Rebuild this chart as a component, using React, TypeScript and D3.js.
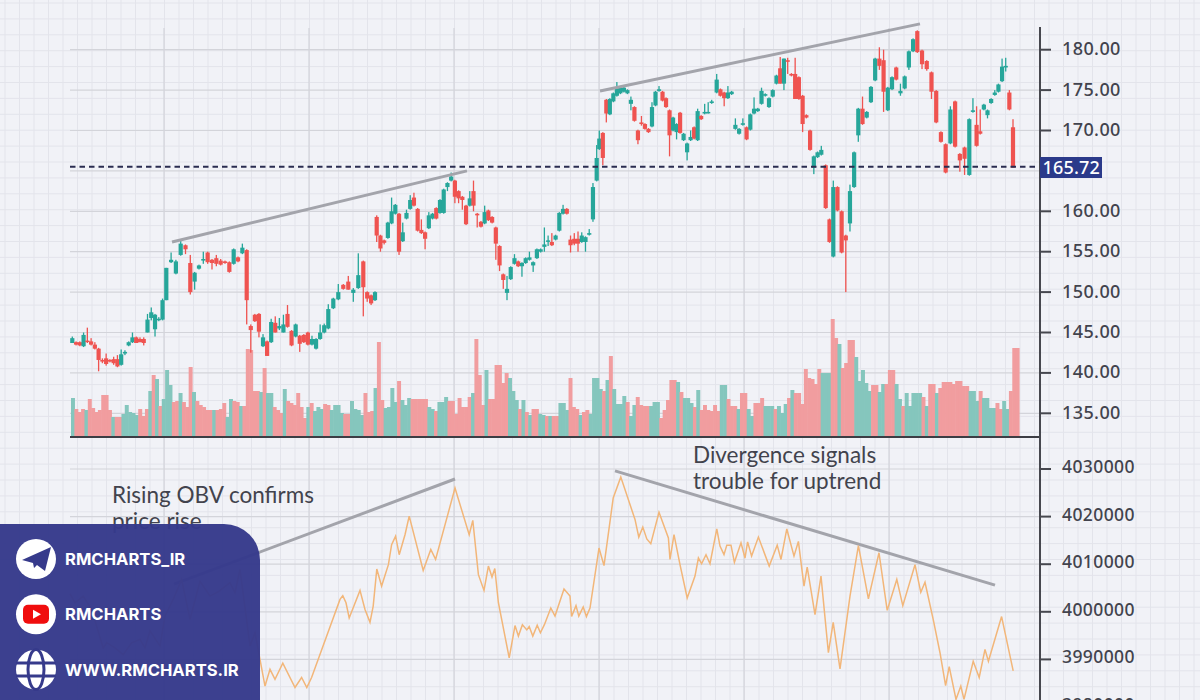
import * as d3 from 'd3';

const W = 1200;
const H = 700;

// [open, high, low, close], one row per session
const priceBars: number[][] = [
  [143.7, 144.5, 143.7, 144.3], [143.8, 143.9, 143.4, 143.5], [143.8, 143.9, 143.3, 143.4], [143.3, 145, 143.2, 144.7],
  [144, 145.6, 143.7, 143.9], [143.9, 144.3, 143.4, 143.5], [143.5, 143.8, 142.9, 143], [143, 143.1, 140.2, 141.6],
  [141.6, 141.8, 141.2, 141.4], [141.8, 142.4, 140.9, 141.1], [141.6, 141.7, 141.3, 141.4], [141.7, 142, 141, 141.2],
  [141.7, 142.2, 140.7, 140.8], [141, 142.9, 140.9, 142.3], [142.4, 142.8, 142.2, 142.6], [143.4, 143.9, 143.3, 143.8],
  [143.8, 145, 143.7, 144.4], [144.4, 144.5, 143.7, 143.7], [144.2, 144.4, 143.8, 143.8], [144.2, 144.4, 143.4, 143.7],
  [145, 147.3, 145, 146.6], [146.8, 148.1, 146.5, 147.5], [145.4, 147.3, 144.5, 147.2], [146.6, 146.9, 146.4, 146.7],
  [146.6, 149.2, 146.5, 149], [149, 153, 149, 153], [153.7, 154.9, 153.6, 154], [152.3, 154, 152.2, 153.8],
  [154.6, 156.4, 154.5, 156], [155.8, 155.9, 154.7, 155.3], [153.6, 154.6, 149.7, 150], [151.3, 152.5, 150.3, 152.4],
  [152.9, 153.4, 152.8, 153.3], [153.9, 155, 153.5, 154.1], [154.9, 155, 153.5, 153.7], [154, 154.1, 152.8, 153.6],
  [154.2, 154.6, 153.2, 153.5], [153.9, 154.1, 153.3, 153.4], [153.8, 153.9, 153.5, 153.6], [153.7, 153.8, 152.4, 152.5],
  [153.5, 155.4, 153.4, 155.3], [154.3, 154.4, 153.7, 153.8], [154.8, 156, 154.7, 155.5], [155.2, 155.3, 146, 149],
  [145.8, 146, 142.5, 145.3], [147.2, 147.3, 146.3, 146.4], [147.3, 147.4, 144.4, 145.1], [143.3, 144.8, 143.2, 144.4],
  [143.9, 144, 142.1, 142.1], [143.8, 146.7, 143.7, 146.3], [146.2, 147, 145, 145], [145.5, 146.8, 145.3, 145.8],
  [145, 147.2, 145, 146], [147.3, 148.4, 145.6, 145.7], [145.2, 145.3, 143.3, 143.4], [144.5, 146.1, 144.4, 146],
  [144.6, 144.7, 142.6, 143.6], [144.7, 144.8, 143.7, 143.8], [145, 145.1, 143.4, 143.5], [143.5, 144.6, 143.4, 144.2],
  [143, 144.3, 142.9, 144.2], [144.2, 146, 144.1, 145], [145, 146.1, 144.9, 145.9], [145.5, 148.5, 145.4, 147.9],
  [148, 149.3, 147.9, 149.2], [149.1, 151, 149, 150], [150.9, 151, 150.3, 150.4], [151.3, 152, 150.3, 150.3],
  [149.9, 150.5, 148.8, 150.3], [150.5, 154.8, 150.4, 152.1], [153.8, 153.9, 147, 150.6], [150, 150.1, 148.8, 149.2],
  [149.6, 149.7, 148.4, 148.6], [149, 150.1, 148.9, 150],
  [159.3, 159.5, 156.2, 157], [157, 157.1, 155, 155.4], [156.4, 156.5, 155.9, 156.1], [156.7, 158.7, 156.6, 158.6],
  [158.5, 161.7, 158.4, 160], [159.7, 160.9, 159.6, 160.8], [159.7, 159.8, 154.6, 155], [156.3, 158.6, 156.2, 157.4],
  [159.1, 160.2, 159, 159.8], [160.3, 162, 160.2, 161.4], [161.7, 162.3, 160.6, 160.7], [160.3, 160.4, 157.5, 157.6],
  [157.7, 159, 157.2, 157.3], [157.4, 157.5, 155.3, 156.6], [157.9, 159.9, 157.8, 159.5], [159.1, 159.8, 159, 159.7],
  [160.4, 160.5, 159, 159.1], [159.8, 161.5, 159.7, 161.4], [159.8, 162.8, 159.7, 162.7], [163, 163.6, 162.5, 163.5],
  [163.8, 164.8, 163.7, 164.3], [163.8, 163.9, 161, 161.8], [162.5, 162.6, 161, 161.6], [161.8, 161.9, 160.2, 161.4],
  [160.7, 160.8, 158.3, 158.4], [160.7, 162.5, 160.6, 161.6], [162.5, 163.8, 160, 160.7], [159.7, 159.8, 158, 159.5],
  [158.7, 158.8, 158, 158.1], [158.5, 160.7, 158.4, 159.9], [160.1, 160.2, 158.8, 158.9], [159.3, 159.4, 158.5, 158.6],
  [158, 158.1, 154, 156], [155.7, 155.8, 152.6, 153.3], [152.2, 152.3, 150.4, 151.5], [149.9, 152, 149, 150.4],
  [151.6, 153.2, 151.5, 153.1], [153.5, 154.7, 153.4, 154.2], [153.8, 153.9, 153.1, 153.2], [153.2, 153.7, 151.9, 153.6],
  [153.6, 154.3, 153.5, 154.2], [154, 155, 153.9, 154.3], [153.3, 153.8, 152.5, 153.7], [154.2, 155.4, 154.1, 155.3],
  [155, 155.4, 154.9, 155.3], [155.6, 158, 155, 155.9], [156.3, 157, 155.7, 156.4], [156.2, 157.3, 155.7, 155.8],
  [156.5, 157.1, 156.4, 157], [157.6, 159.9, 157.5, 159.8], [159.7, 160.8, 159.6, 160.3], [160.3, 160.4, 159.6, 159.7],
  [156.5, 157, 154.9, 155.8], [156.6, 157.3, 155.8, 156], [156.6, 157.5, 155, 156], [156.2, 157.4, 156.1, 157],
  [156.2, 156.9, 155, 156.8], [157.1, 157.8, 157, 157.3], [159, 163.5, 158.7, 163], [163.8, 168.2, 163.7, 166.6],
  [167.7, 170, 167.6, 169], [169.7, 169.8, 165.7, 166.6], [173.8, 173.9, 171, 172.1], [172, 174, 171.9, 173.9],
  [173.6, 174.7, 173.5, 174.6], [174.3, 176, 174.2, 175.2], [174.6, 175.4, 174.5, 175.3], [174.8, 175.4, 174.7, 175.3],
  [174.6, 175.1, 174.5, 175], [173.3, 174.2, 172.5, 173.8], [172.9, 173, 171.1, 171.2], [170, 170.1, 168.3, 168.8],
  [171, 171.8, 170.6, 170.8], [170.8, 170.9, 170.1, 170.2], [170.2, 170.3, 169.7, 169.8], [170.5, 173.5, 170.4, 172.9],
  [173.1, 174.9, 173, 174.8], [174.9, 175.5, 174.8, 175.1], [174.8, 174.9, 173.6, 173.7], [174, 174.1, 172.8, 172.9],
  [172.5, 172.6, 166.8, 169.4], [170, 171.7, 169.9, 171.6], [169.8, 170.9, 168.9, 170.8], [172.2, 172.3, 169.6, 169.7],
  [168.8, 169.7, 168.7, 169.6], [167.3, 168.5, 166.3, 168.4], [168.8, 170, 168.7, 169.2], [170.4, 170.5, 168.9, 169],
  [168.8, 172.7, 168.7, 172.4], [171.8, 171.9, 171.3, 171.4], [172.1, 173.3, 172, 172.3], [172.2, 173.5, 172.1, 172.3],
  [173.4, 173.8, 173.3, 173.6],
  [174.7, 177, 174.6, 176.3], [175.1, 175.2, 174.2, 174.3], [174.7, 174.8, 173, 174], [174, 175.5, 173.9, 174.7],
  [174.5, 174.9, 174.4, 174.8], [170.2, 171.5, 170.1, 170.7], [169.6, 170.3, 169.5, 170.2], [170.7, 171.5, 170.6, 170.9],
  [170.4, 170.5, 168.8, 168.9], [170.1, 172.1, 170, 172], [172.1, 174.1, 172, 172.7], [172.4, 172.8, 172.3, 172.7],
  [173.3, 175.3, 173.2, 174.9], [174.3, 174.6, 174.2, 174.5], [172.9, 174.1, 172.8, 174], [174.2, 175.1, 174.1, 175],
  [175.8, 176.9, 175.7, 176.8], [177.7, 179.1, 175.8, 175.8], [175.8, 178.9, 175, 178.9], [178.7, 179, 177, 178.5],
  [177, 177.1, 176.7, 176.8], [177, 179, 173.9, 173.9], [176.6, 176.7, 173.8, 173.9], [174.3, 174.4, 169.8, 170.8],
  [171.9, 172, 171.5, 171.6], [170, 170.1, 167.5, 167.6], [165.4, 166.9, 164.6, 166.8], [166.7, 167.4, 166.6, 167.3],
  [167, 168.1, 166.9, 167.6], [165.7, 165.8, 160.3, 160.4], [159, 159.1, 156.1, 156.2], [154.4, 163.8, 154.3, 163],
  [163, 163.1, 160, 160.1], [160, 160.1, 154.8, 154.9], [157, 157.1, 150, 156.4], [158.5, 163.3, 157.5, 162.5],
  [163, 167.4, 162.9, 167.3], [169.4, 172.8, 168.6, 172.7], [172.7, 174.2, 170.7, 170.8], [171.6, 172.4, 171.5, 172.3],
  [173.5, 175.5, 173.4, 175.4], [176.2, 179, 176.1, 178.9], [178.9, 180.3, 177.5, 178], [178.7, 180, 172.3, 174.8],
  [172.5, 175.4, 172.4, 175.3], [175.1, 176.7, 175, 176.6], [177.8, 177.9, 176.2, 176.3], [174.6, 175.8, 174.3, 174.9],
  [175.2, 176.8, 175.1, 176.7], [177.8, 179.9, 177.5, 179.8], [179.8, 181.4, 179.7, 181.3], [182.3, 182.4, 179.6, 179.7],
  [179.9, 180, 177.6, 178.2], [178.6, 178.7, 177.4, 177.6], [177.2, 177.3, 173.9, 174.8], [174.9, 175, 170.9, 171],
  [169.8, 169.9, 168.5, 168.6], [168.3, 168.4, 164.7, 164.8], [168.4, 173, 168.3, 172.6], [173.6, 173.7, 167.9, 168],
  [167.1, 167.2, 164.9, 166.3], [167.9, 168, 164.5, 166.5], [164.5, 171.5, 164.4, 171.4], [172.3, 174, 172.2, 172.5],
  [170.7, 173, 168, 168.1], [169.9, 172.6, 169.5, 169.6], [172.6, 173.3, 172.5, 173.2], [171.9, 172.6, 171.5, 172.5],
  [173.4, 174, 173.3, 173.9], [174.4, 175, 174.3, 174.7], [174.8, 175.8, 174.7, 175.7], [176.1, 178.9, 176, 177.9],
  [177.8, 179, 177.3, 178], [174.7, 175, 172.5, 172.6], [170.4, 171.4, 165.4, 165.4],
];

// bar heights, positive sessions drawn teal and negative drawn red
const volumeBars: number[] = [
  39, -28, -25, -28, 27, -38, -29, -25, -27, -42, -42, -27, 20, -20, -20, 23, 32, 25, 24, 22, -28, -21, -28, 46, -62, 58, -31, 38, 67, 52,
  -35, -36, 44, -35, -30, -70, 45, -36, -32, -30, -27, -27, 27, -27, -28, -34, 20, 38, -36, -35, 31, -31, -88, -87, -46, -46, 45, -69, 44, 44,
  -30, -27, -24, 48, -36, -34, -32, -44, -30, -19, 30, -34, 26, 30, 28, -33, -32, 27, 32, 32, 24, -23, -23, 36, 28, 27, 22, -44, -25, -26,
  49, -95, -37, 29, 30, 49, 35, -56,
  37, 32, 39, -38, -38, -38, -38, -38, 30, 28, -26, 35, 35, 40, -36, -36, -23, -39, -30, -30, -40, 44, -98, -62, -32, 67, -38, -38, -72, -72,
  -54, -64, 59, 46, 37, -28, 37, -25, 22, -28, -28, 23, 22, -21, 21, -21, -21, 34, 34, 27, -59, -30, -28, 22, -25, -27, 23, 59, 59, 48,
  -46, 57, -81, 48, 33, 33, 41, -35, 21, 32, -40, -32, -31, -31, 31, 35, 35, -19, -27, -37, -57, -57, 55, -45, 39, 39, 34, -30, 47, -27,
  -32, -27,
  -26, -32, -26, 52, 52, -38, -31, -31, 28, -44, -44, 28, 21, -34, -34, -39, 31, 31, 31, -28, 31, 24, 33, -39, 47, -44, -44, -33, -68, -59,
  -58, -53, -68, 64, 64, 64, -118, -99, 93, -69, -74, -97, -97, 80, 56, 67, 54, 46, -52, -52, 45, 53, -53, -67, -67, 53, 38, -31, 44, 31,
  44, 44, 44, -40, 31, -53, -53, 44, -49, -55, -55, -55, -53, -56, -56, -51, -51, 46, 46, 36, -46, 39, 39, 29, 29, -34, -28, 36, 28, -46,
  -89, -89,
];

// [session, OBV in thousands], turning points of the line
const obvPoints: number[][] = [
  [-0.5, 4003.8], [0.75, 4001.9], [2.8, 4003.3], [4.9, 4000.5], [7.8, 3992.4], [8.7, 3993.5], [10.75, 3992.4], [12.8, 3991],
  [14.9, 3993.5], [17, 3994.2], [18.25, 3992.4], [19.5, 3996], [22, 3992.8], [23.25, 3999.1], [25.3, 4002.6], [27.4, 4006.8],
  [29.5, 3998.4], [32, 4006.4], [34.5, 4003.3], [36.7, 4004.3], [39.5, 4006.1], [40.75, 4004], [42, 4008.9], [44.5, 3992.8],
  [45.75, 3995.6], [48.25, 3984.4], [49.5, 3987.9], [50.75, 3985.8], [52.7, 3989.2], [55.75, 3984.1], [57.4, 3986.2], [58.7, 3984.1],
  [59.9, 3986.2], [67, 4002.6], [67.7, 4003.4], [68.5, 4001.9], [69.3, 3998.7], [72, 4004.5], [73.25, 4000.5], [74.5, 3997.8],
  [75.3, 4001.2], [76.2, 4009], [77.4, 4005.4], [79.1, 4009.9], [79.9, 4014.1], [80.9, 4015.9], [81.8, 4012], [83.25, 4016.2],
  [84.3, 4020.1], [87.8, 4008.7], [89.7, 4013.1], [90.9, 4011], [95.75, 4026], [99.3, 4016.2], [100.2, 4019.2], [101.6, 4007.8],
  [103, 4004.5], [104.1, 4009.6], [105, 4007.3], [105.7, 4009.1], [106.6, 4001.9], [109.3, 3990.3], [110.75, 3997.1], [111.6, 3994.9],
  [112.6, 3997.3], [113.7, 3996.2], [114.3, 3996.9], [115.2, 3994.9], [116.3, 3997.2], [117.1, 3995.6], [118.1, 3997.3], [119.7, 4000.8],
  [120.75, 3999.1], [123, 4004.8], [124.5, 4003.3], [124.9, 3999], [126, 4001.3], [126.7, 3999.1], [127.8, 4001], [128.6, 3999],
  [129.5, 4000.8], [131.75, 4013.4], [133, 4009.7], [135.3, 4023.9], [137.2, 4028.3], [140.75, 4019.4], [141.7, 4015.7], [142.7, 4017.8],
  [143.7, 4015.3], [144.7, 4014.3], [146.75, 4020.9], [149.1, 4015.5], [149.5, 4011], [150.5, 4016.2], [152, 4009.9], [153.8, 4002.9],
  [155.75, 4007.5], [156.6, 4011.3], [157.4, 4010.1], [158.5, 4012], [159.5, 4010.1], [161.2, 4017.4], [162, 4013.8], [163, 4012],
  [163.7, 4014], [164.75, 4014], [165.6, 4010.4], [167.25, 4014.5], [168.25, 4011.3], [168.9, 4014.7], [169.9, 4011.7], [171.6, 4015.7],
  [174.3, 4009.6], [176.3, 4014], [177.25, 4011], [178.7, 4017.4], [180.5, 4011.7], [181.6, 4014.8], [183, 4005.4], [183.8, 4009.4],
  [185.75, 3999.4], [187.25, 4007.5], [189.1, 3991.4], [190.3, 3997.8], [192, 3988], [194.5, 4003.3], [196.6, 4013.9], [199.1, 4002.7],
  [201.75, 4012.4], [203.8, 4000.3], [206.2, 4006.8], [207.7, 4001.3], [210.75, 4009.9], [212.2, 4004.1], [213.25, 4006.2], [215.3, 3998.4],
  [217, 3991.4], [218.4, 3984.5], [219.3, 3988.5], [221, 3981.6], [222.2, 3984.4], [223, 3981.6], [225.3, 3989.6], [226.8, 3986.2],
  [228.25, 3992.1], [229.1, 3989.6], [232.4, 3999], [235.3, 3987.6],
];

const priceTicks = [180, 175, 170, 165, 160, 155, 150, 145, 140, 135];
const priceLabels = priceTicks.filter((t) => t !== 165);
const obvTicks = [4030, 4020, 4010, 4000, 3990, 3980];

const lastPrice = 165.72;
const lastPriceLevel = 165.5;

// [session, value] end points
const priceTrends = [
  [[25, 156.2], [98.75, 165]],
  [[132, 174.9], [212, 183.2]],
];
const obvTrends = [
  [[25.5, 4005.8], [95.75, 4027.9]],
  [[135.75, 4029.6], [230.75, 4005.6]],
];

const contacts = ['RMCHARTS_IR', 'RMCHARTS', 'WWW.RMCHARTS.IR'];

// the sessions are not evenly spread along the reference's axis, so the bar scale is piecewise
const barStops = [0, 25, 30, 43, 63, 70, 73, 74, 109, 133, 134, 166, 167, 195, 196, 198, 204, 218, 229, 241];
const barStopsX = [72.3, 166.3, 190.3, 246.7, 328.3, 363.3, 375, 376.7, 507, 596.7, 599.3, 711.7, 716.7, 821.3, 825.7, 833.3, 858.3, 917.3, 969.3, 1013];

const x = d3.scaleLinear().domain([0, 235]).range([72, 1012]);
const xBar = d3.scaleLinear().domain(barStops).range(barStopsX);
const xVol = d3.scaleBand<number>().domain(d3.range(volumeBars.length)).range([71, 1019]);
const yPrice = d3.scaleLinear().domain([135, 180]).range([413.3, 49.7]);
const yVol = d3.scaleLinear().domain([0, 118]).range([437, 319]);
const yObv = d3.scaleLinear().domain([4030, 3980]).range([469, 707]);

const obvLine = d3.line<number[]>().x((d) => x(d[0])).y((d) => yObv(d[1]));

const UP = '#26a69a';
const DOWN = '#ef5350';
const GRID = '#d3d4da';
const INK = '#42434d';
const PANEL = '#363a8b';
const labelFont = '"Noto Sans", sans-serif';
const noteFont = 'Lato, sans-serif';

export default function App() {
  const minorX = d3.range(5, W, 14.5);
  const minorY = d3.range(3, H, 15.9);
  const majorX = d3.range(164, 1000, 145);

  return (
    <div style={{ position: 'absolute', left: 0, top: 0 }}>
      <svg width={W} height={H} style={{ display: 'block' }}>
        <rect width={W} height={H} fill="#f1f2f7" />
        {minorX.map((v) => <line key={v} x1={v} x2={v} y1={0} y2={H} stroke="#e3e4eb" />)}
        {minorY.map((v) => <line key={v} x1={0} x2={W} y1={v} y2={v} stroke="#e3e4eb" />)}
        {majorX.map((v) => <line key={v} x1={v} x2={v} y1={28} y2={H} stroke={GRID} strokeWidth={1.2} />)}
        {priceTicks.map((t) => <line key={t} x1={70} x2={1040} y1={yPrice(t)} y2={yPrice(t)} stroke={GRID} strokeWidth={1.2} />)}
        {obvTicks.map((t) => <line key={t} x1={70} x2={1040} y1={yObv(t)} y2={yObv(t)} stroke={GRID} strokeWidth={1.2} />)}

        {volumeBars.map((v, i) => (
          <rect key={i} x={xVol(i)} width={xVol.bandwidth() + 0.6} y={yVol(Math.abs(v))} height={yVol(0) - yVol(Math.abs(v))}
            fill={v >= 0 ? '#85c6bd' : '#f19d9f'} />
        ))}

        {priceBars.map(([o, h, l, c], i) => {
          const colour = c >= o ? UP : DOWN;
          const top = yPrice(Math.max(o, c));
          const bottom = yPrice(Math.min(o, c));
          return (
            <g key={i} fill={colour}>
              <rect x={xBar(i) - 0.65} width={1.3} y={yPrice(h)} height={yPrice(l) - yPrice(h)} />
              <rect x={xBar(i) - 2.1} width={4.2} y={top} height={Math.max(bottom - top, 1.5)} />
            </g>
          );
        })}

        <line x1={70} x2={1040} y1={yPrice(lastPriceLevel)} y2={yPrice(lastPriceLevel)} stroke="#2a2c50" strokeWidth={2} strokeDasharray="5.5 4" />
        <line x1={70} x2={1040} y1={437} y2={437} stroke="#3c3d44" strokeWidth={2} />
        <line x1={1040} x2={1040} y1={27} y2={H} stroke="#46474e" strokeWidth={2} />

        {priceTrends.map((t, i) => (
          <line key={i} x1={x(t[0][0])} y1={yPrice(t[0][1])} x2={x(t[1][0])} y2={yPrice(t[1][1])} stroke="#a3a4ab" strokeWidth={3} />
        ))}
        {obvTrends.map((t, i) => (
          <line key={i} x1={x(t[0][0])} y1={yObv(t[0][1])} x2={x(t[1][0])} y2={yObv(t[1][1])} stroke="#a3a4ab" strokeWidth={3} />
        ))}
        <path d={obvLine(obvPoints) ?? ''} fill="none" stroke="#f2b679" strokeWidth={1.5} />

        {priceLabels.map((t) => (
          <g key={t}>
            <line x1={1040} x2={1051} y1={yPrice(t)} y2={yPrice(t)} stroke="#46474e" strokeWidth={2} />
            <text x={1062} y={yPrice(t) + 5.5} fontFamily={labelFont} fontSize={18} fontWeight={500} fill={INK} letterSpacing={0.4}>
              {t.toFixed(2)}
            </text>
          </g>
        ))}
        {obvTicks.map((t) => (
          <g key={t}>
            <line x1={1040} x2={1051} y1={yObv(t)} y2={yObv(t)} stroke="#46474e" strokeWidth={2} />
            <text x={1062} y={yObv(t) + 4} fontFamily={labelFont} fontSize={17.5} fontWeight={500} fill={INK} letterSpacing={0.4}>
              {t * 1000}
            </text>
          </g>
        ))}

        <rect x={1040} y={157} width={62} height={21} fill="#2b3a8a" />
        <text x={1042.5} y={174} fontFamily={labelFont} fontSize={18} fontWeight={500} fill="#fff" letterSpacing={0.2}>
          {lastPrice.toFixed(2)}
        </text>

        <g fontFamily={noteFont} fontSize={22.5} fill={INK}>
          <text x={112} y={503}>Rising OBV confirms</text>
          <text x={112} y={529}>price rise</text>
          <text x={693} y={463}>Divergence signals</text>
          <text x={693} y={489}>trouble for uptrend</text>
        </g>

        <path d={`M0,524 H224 A36,36 0 0 1 260,560 V${H} H0 Z`} fill={PANEL} fillOpacity={0.97} />
        {contacts.map((c, i) => (
          <g key={c} transform={`translate(36,${559 + i * 55.3})`}>
            <circle r={20} fill="#fff" />
            {i === 0 && <path d="M-14,1 L15,-12 L9,12 L1,6 L-2,9 L-3,4 Z" fill={PANEL} />}
            {i === 1 && (
              <g>
                <rect x={-13} y={-9.5} width={26} height={19} rx={5} fill="#f00d0d" />
                <path d="M-3,-4.5 L5,0 L-3,4.5 Z" fill="#fff" />
              </g>
            )}
            {i === 2 && (
              <g fill="none" stroke={PANEL} strokeWidth={3}>
                <ellipse rx={8} ry={20} />
                <line x1={-20} x2={20} y1={-6.5} y2={-6.5} />
                <line x1={-20} x2={20} y1={6.5} y2={6.5} />
              </g>
            )}
            <text x={29} y={6} fontFamily="Inter, sans-serif" fontSize={16.6} fontWeight={700} fill="#fff">{c}</text>
          </g>
        ))}
      </svg>
    </div>
  );
}
